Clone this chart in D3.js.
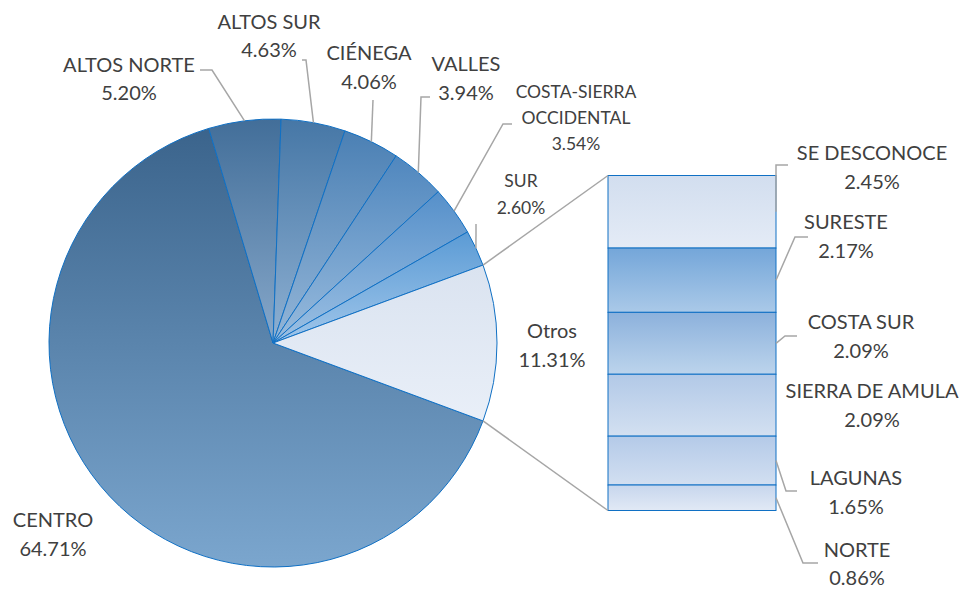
<!DOCTYPE html>
<html lang="es">
<head>
<meta charset="UTF-8" />
<title>Pie of bar</title>
<script src="https://cdn.jsdelivr.net/npm/d3@7"></script>
<style>
  body { margin: 0; background: #fff; }
  text { font-family: Lato, Carlito, Calibri, sans-serif; fill: #404040; }
</style>
</head>
<body>
<svg width="970" height="589"></svg>
<script>
// datos
var pieNames = ['CENTRO', 'ALTOS NORTE', 'ALTOS SUR', 'CIÉNEGA', 'VALLES', 'COSTA-SIERRA OCCIDENTAL', 'SUR', 'Otros'];
var pieValues = [64.71, 5.20, 4.63, 4.06, 3.94, 3.54, 2.60, 11.31];
var barNames = ['SE DESCONOCE', 'SURESTE', 'COSTA SUR', 'SIERRA DE AMULA', 'LAGUNAS', 'NORTE'];
var barValues = [2.45, 2.17, 2.09, 2.09, 1.65, 0.86];

// colores (arriba -> abajo)
var pieColors = [
  ['#3b648c', '#7ba6ce'], ['#426e99', '#87a8ca'], ['#4677a6', '#8eb0d2'], ['#4b80b4', '#94b6d8'],
  ['#5087be', '#98bbdd'], ['#5690ca', '#9cc0e3'], ['#5b9bd5', '#a0c6ea'], ['#dae3f0', '#e9eff8']
];
var barColors = [
  ['#d2deef', '#e4ebf6'], ['#74a6d9', '#aac9e8'], ['#8cb1dc', '#bcd4ec'],
  ['#b2c9e7', '#d3e0f1'], ['#b4cae8', '#d2dff1'], ['#c7d6ed', '#e1e9f5']
];

var svg = d3.select('svg');
var defs = svg.append('defs');
var cx = 273, cy = 343, r = 224;
var stroke = '#1070c4';
var lineColor = '#a6a6a6';

function grad(id, c) {
  var g = defs.append('linearGradient').attr('id', id)
    .attr('x1', 0).attr('y1', 0).attr('x2', 0).attr('y2', 1);
  g.append('stop').attr('offset', '0%').attr('stop-color', c[0]);
  g.append('stop').attr('offset', '100%').attr('stop-color', c[1]);
}
pieColors.forEach(function (c, i) { grad('pg' + i, c); });
barColors.forEach(function (c, i) { grad('bg' + i, c); });

// pastel: "Otros" centrado a la derecha
var total = d3.sum(pieValues);
var otrosFrac = pieValues[pieValues.length - 1] / total;
var a0 = Math.PI / 2 + otrosFrac * Math.PI;
var pie = d3.pie().sort(null).startAngle(a0).endAngle(a0 + 2 * Math.PI);
var arcs = pie(pieValues);
var arc = d3.arc().innerRadius(0).outerRadius(r);

var gp = svg.append('g').attr('transform', 'translate(' + cx + ',' + cy + ')');
gp.selectAll('path').data(arcs).enter().append('path')
  .attr('d', arc)
  .attr('fill', function (d, i) { return 'url(#pg' + i + ')'; })
  .attr('stroke', stroke)
  .attr('stroke-width', 1);

function onArc(a) {
  return [cx + r * Math.sin(a), cy - r * Math.cos(a)];
}

// barra
var barX = 608, barW = 168;
var y = d3.scaleLinear().domain([0, d3.sum(barValues)]).range([175.5, 510.5]);
var cum = d3.cumsum(barValues);
var segs = barValues.map(function (v, i) { return { v: v, y0: cum[i] - v, y1: cum[i] }; });
svg.append('g').selectAll('rect').data(segs).enter().append('rect')
  .attr('x', barX)
  .attr('y', function (d) { return y(d.y0); })
  .attr('width', barW)
  .attr('height', function (d) { return y(d.y1) - y(d.y0); })
  .attr('fill', function (d, i) { return 'url(#bg' + i + ')'; })
  .attr('stroke', stroke)
  .attr('stroke-width', 1);

// lineas de conexion
var otros = arcs[arcs.length - 1];
var pTop = onArc(otros.startAngle), pBot = onArc(otros.endAngle);
var line = d3.line();
var gl = svg.append('g').attr('fill', 'none').attr('stroke', lineColor).attr('stroke-width', 1.5);
gl.append('path').attr('d', line([pTop, [barX, y(0)]]));
gl.append('path').attr('d', line([pBot, [barX, y(d3.sum(barValues))]]));

// etiquetas del pastel: [x centro, y primera linea, tamaño, lineas, guia]
var pieLayout = [
  { x: 53, y: 527, fs: 20, lh: 28.5, lines: ['CENTRO'], guide: null },
  { x: 129, y: 71.5, fs: 20, lh: 28.5, lines: ['ALTOS NORTE'], guide: [[212, 70], [200, 70]] },
  { x: 269, y: 28.5, fs: 20, lh: 28.5, lines: ['ALTOS SUR'], guide: [[306, 60], [302, 60]] },
  { x: 369, y: 60, fs: 20, lh: 28.5, lines: ['CIÉNEGA'], guide: [[373, 100]] },
  { x: 466, y: 71, fs: 20, lh: 28.5, lines: ['VALLES'], guide: [[421, 97], [430, 97]] },
  { x: 576, y: 97.5, fs: 17.5, lh: 26, lines: ['COSTA-SIERRA', 'OCCIDENTAL'], guide: [[503, 124], [512, 124]] },
  { x: 521, y: 187, fs: 17.5, lh: 26.5, lines: ['SUR'], guide: [[476, 224]] },
  { x: 552, y: 338, fs: 20, lh: 28.5, lines: ['Otros'], guide: null }
];

arcs.forEach(function (d, i) {
  var L = pieLayout[i];
  if (L.guide) {
    var mid = (d.startAngle + d.endAngle) / 2;
    gl.append('path').attr('d', line([onArc(mid)].concat(L.guide)));
  }
  var t = svg.append('text').attr('text-anchor', 'middle').attr('font-size', L.fs);
  L.lines.concat([pieValues[i].toFixed(2) + '%']).forEach(function (s, k) {
    t.append('tspan').attr('x', L.x).attr('y', L.y + k * L.lh).text(s);
  });
});

// etiquetas de la barra
var barLayout = [
  { x: 872, y: 160, guide: [[776, 165], [788, 165]] },
  { x: 846, y: 229, guide: [[795, 237], [808, 237]] },
  { x: 861, y: 329, guide: [[785, 336], [797, 336]] },
  { x: 872, y: 398, guide: null },
  { x: 856, y: 485, guide: [[786, 491], [797, 491]] },
  { x: 857, y: 556.5, guide: [[803, 563], [818, 563]] }
];
segs.forEach(function (d, i) {
  var L = barLayout[i];
  if (L.guide) {
    var p = [barX + barW, (y(d.y0) + y(d.y1)) / 2];
    gl.append('path').attr('d', line([p].concat(L.guide)));
  }
  var t = svg.append('text').attr('text-anchor', 'middle').attr('font-size', 20);
  t.append('tspan').attr('x', L.x).attr('y', L.y).text(barNames[i]);
  t.append('tspan').attr('x', L.x).attr('y', L.y + 28.5).text(barValues[i].toFixed(2) + '%');
});
</script>
</body>
</html>
